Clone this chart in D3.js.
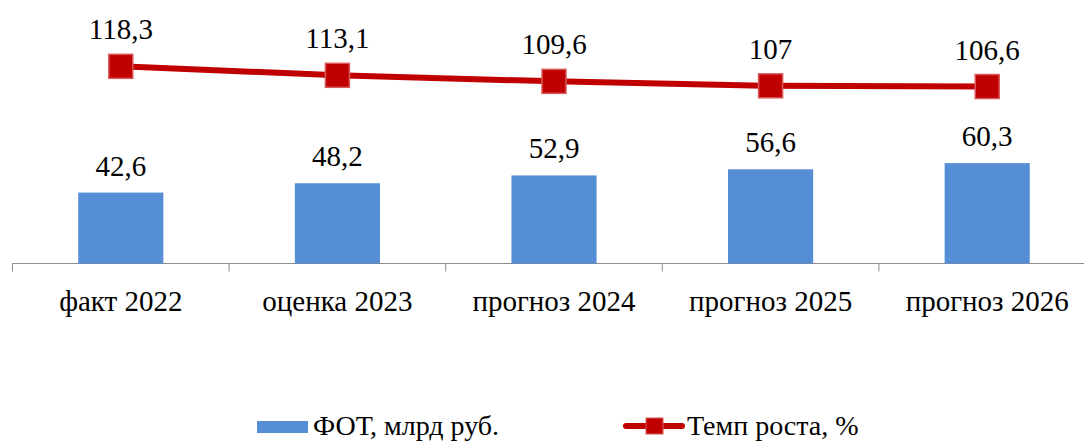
<!DOCTYPE html>
<html><head><meta charset="utf-8">
<script src="https://cdn.jsdelivr.net/npm/d3@7"></script>
<style>
html,body{margin:0;padding:0;background:#fff;}
</style></head>
<body><svg id="c" width="1084" height="441" font-family="'Liberation Serif', Tinos, 'Times New Roman', Times, 'DejaVu Serif', serif"></svg>
<script>
const categories = ["факт 2022","оценка 2023","прогноз 2024","прогноз 2025","прогноз 2026"];
const fotValues = [42.6, 48.2, 52.9, 56.6, 60.3];
const growthValues = [118.3, 113.1, 109.6, 107, 106.6];
const fotLabels = ["42,6","48,2","52,9","56,6","60,3"];
const growthLabels = ["118,3","113,1","109,6","107","106,6"];
const seriesNames = ["ФОТ, млрд руб.","Темп роста, %"];

const svg = d3.select("#c");
const barColor = "#558ED5", lineColor = "#C00000", markerStroke = "#D9595B", axisColor = "#8C8C8C";
const fs = 29;

const x = d3.scaleBand().domain(categories).range([12.5, 1095.5]).paddingInner(0.607).paddingOuter(0.3035);
const y = d3.scaleLinear().domain([0, 60]).range([263.5, 163.6]);
const y2 = d3.scaleLinear().domain([0, 120]).range([270.6, 63.4]);

// axis
const axisY = y(0);
svg.append("line").attr("x1", x.range()[0]).attr("x2", 1084).attr("y1", axisY).attr("y2", axisY)
  .attr("stroke", axisColor).attr("stroke-width", 1);
const gap = (x.step() - x.bandwidth()) / 2;
const bounds = categories.map(c => x(c) - gap).concat([x(categories[categories.length-1]) + x.bandwidth() + gap]);
svg.selectAll("line.tick").data(bounds).enter().append("line").attr("class","tick")
  .attr("x1", d => d).attr("x2", d => d).attr("y1", axisY).attr("y2", axisY + 8)
  .attr("stroke", axisColor).attr("stroke-width", 1);

// category labels
svg.selectAll("text.cat").data(categories).enter().append("text").attr("class","cat")
  .attr("x", d => x(d) + x.bandwidth()/2).attr("y", 310.5).attr("text-anchor","middle")
  .attr("font-size", fs).attr("fill", "#000").text(d => d);

// bars
svg.selectAll("rect.bar").data(fotValues).enter().append("rect").attr("class","bar")
  .attr("x", (d,i) => x(categories[i])).attr("width", x.bandwidth())
  .attr("y", d => y(d)).attr("height", d => y(0) - y(d)).attr("fill", barColor);
svg.selectAll("text.bl").data(fotValues).enter().append("text").attr("class","bl")
  .attr("x", (d,i) => x(categories[i]) + x.bandwidth()/2).attr("y", d => y(d) - 17)
  .attr("text-anchor","middle").attr("font-size", fs).attr("fill", "#000").text((d,i) => fotLabels[i]);

// line
const line = d3.line().x((d,i) => x(categories[i]) + x.bandwidth()/2).y(d => y2(d));
svg.append("path").datum(growthValues).attr("d", line).attr("fill","none")
  .attr("stroke", lineColor).attr("stroke-width", 6).attr("stroke-linejoin","round");
const ms = 24;
svg.selectAll("rect.mk").data(growthValues).enter().append("rect").attr("class","mk")
  .attr("x", (d,i) => x(categories[i]) + x.bandwidth()/2 - ms/2).attr("y", d => y2(d) - ms/2)
  .attr("width", ms).attr("height", ms).attr("fill", lineColor).attr("stroke", markerStroke).attr("stroke-width", 1.5);
svg.selectAll("text.ll").data(growthValues).enter().append("text").attr("class","ll")
  .attr("x", (d,i) => x(categories[i]) + x.bandwidth()/2).attr("y", d => y2(d) - 27)
  .attr("text-anchor","middle").attr("font-size", fs).attr("fill", "#000").text((d,i) => growthLabels[i]);

// legend
const lg = svg.append("g");
lg.append("rect").attr("x", 257).attr("y", 421).attr("width", 51).attr("height", 12).attr("fill", barColor);
lg.append("text").attr("x", 313).attr("y", 435).attr("font-size", 28).attr("fill", "#000").text(seriesNames[0]);
lg.append("line").attr("x1", 626).attr("x2", 682).attr("y1", 426).attr("y2", 426)
  .attr("stroke", lineColor).attr("stroke-width", 6).attr("stroke-linecap","round");
lg.append("rect").attr("x", 646).attr("y", 418).attr("width", 17).attr("height", 16)
  .attr("fill", lineColor).attr("stroke", markerStroke).attr("stroke-width", 1);
lg.append("text").attr("x", 687).attr("y", 435).attr("font-size", 28).attr("fill", "#000").text(seriesNames[1]);
</script></body></html>
